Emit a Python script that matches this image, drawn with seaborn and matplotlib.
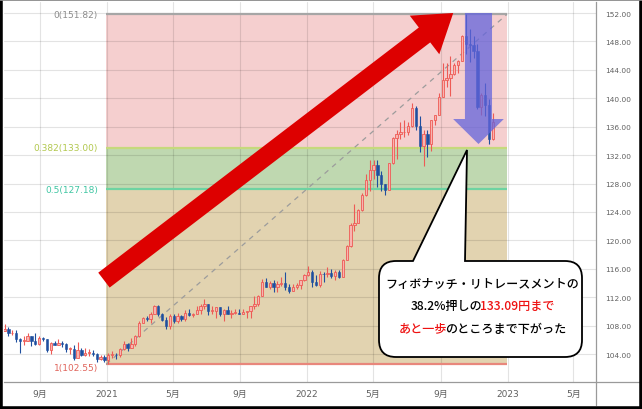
import numpy as np
import pandas as pd
import matplotlib.pyplot as plt
import matplotlib.dates as mdates
from matplotlib.patches import FancyArrowPatch, PathPatch, ArrowStyle
from matplotlib.path import Path
from matplotlib.lines import Line2D
from matplotlib.ticker import FuncFormatter
import seaborn as sns


# weekly USD/JPY candles (week starting Monday)
weeks = pd.date_range("2020-06-29", "2022-12-05", freq="W-MON")

opens = [
    107.2, 107.5, 106.9, 107.0, 106.1, 105.8, 105.9, 106.6, 105.8, 105.4,
    106.2, 106.1, 104.6, 105.6, 105.3, 105.6, 105.4, 104.7, 104.7, 103.4,
    104.6, 103.9, 104.1, 104.2, 104.0, 103.3, 103.6,
    # 2021
    103.2, 103.9, 103.9, 103.8, 104.7, 105.4, 104.9, 105.4, 106.6, 108.3,
    109.0, 108.9, 109.6, 110.7, 109.7, 108.8, 107.9, 109.3, 108.6, 109.4,
    108.9, 109.8, 109.5, 109.7, 110.2, 110.8, 111.1, 110.1, 110.1, 110.6,
    109.7, 110.2, 109.6, 109.8, 109.8, 109.7, 109.9, 110.0, 110.7, 111.1,
    112.2, 114.2, 113.5, 114.0, 113.4, 113.9, 114.0, 113.4, 112.8, 113.4,
    113.7, 114.4,
    # 2022
    115.1, 115.6, 114.2, 113.7, 115.3, 115.2, 115.4, 115.0, 115.6, 114.8,
    117.3, 119.2, 122.1, 122.5, 124.3, 126.4, 128.5, 129.9, 130.6, 129.2,
    127.9, 127.1, 130.9, 134.4, 135.0, 135.2, 135.2, 136.1, 138.6, 136.1,
    133.3, 135.0, 133.5, 136.9, 137.6, 140.2, 142.6, 142.9, 143.4, 144.7,
    145.3, 148.7, 147.7, 147.5, 146.6, 138.8, 140.4, 139.1, 134.3,
]
highs = [
    108.2, 107.8, 107.4, 107.4, 106.2, 106.5, 107.0, 106.6, 107.0, 106.6,
    106.4, 106.1, 105.7, 105.8, 106.1, 105.8, 105.5, 105.0, 105.3, 105.7,
    104.8, 104.8, 104.7, 104.5, 104.2, 103.9, 103.9,
    104.1, 104.4, 104.1, 104.9, 105.8, 105.6, 106.2, 106.7, 108.6, 109.2,
    109.4, 109.9, 110.9, 110.9, 109.8, 109.2, 109.7, 109.7, 109.8, 109.5,
    110.2, 110.3, 109.8, 110.8, 111.0, 111.7, 111.1, 110.7, 110.6, 110.6,
    110.4, 110.8, 110.2, 110.3, 110.4, 110.4, 110.1, 110.8, 112.1, 112.3,
    114.5, 114.7, 114.3, 114.4, 114.3, 114.9, 115.5, 113.9, 113.9, 114.0,
    114.4, 115.2,
    116.4, 115.8, 115.1, 115.7, 115.5, 116.3, 116.0, 115.8, 115.8, 117.4,
    119.4, 122.4, 125.1, 124.4, 126.7, 129.4, 131.3, 131.3, 131.3, 129.8,
    128.0, 130.9, 134.6, 135.6, 136.7, 137.0, 136.6, 139.4, 138.9, 137.5,
    135.6, 135.6, 137.0, 137.7, 140.8, 145.0, 144.9, 145.9, 144.9, 145.4,
    148.9, 151.8, 149.7, 148.8, 147.6, 140.8, 142.2, 139.9, 137.9,
]
lows = [
    107.2, 106.6, 106.7, 105.7, 104.2, 105.3, 105.8, 105.1, 105.2, 105.2,
    105.9, 104.3, 104.0, 105.2, 105.2, 105.0, 104.3, 104.0, 103.2, 103.4,
    103.7, 103.7, 103.7, 103.7, 102.9, 103.1, 102.9,
    102.55, 103.5, 103.3, 103.6, 104.6, 104.4, 104.9, 105.1, 106.4, 108.3,
    108.6, 108.4, 109.6, 109.4, 108.6, 107.5, 107.5, 108.3, 108.3, 108.6,
    108.6, 109.3, 109.2, 109.6, 109.7, 110.4, 109.5, 109.6, 109.1, 109.4,
    108.7, 109.6, 109.1, 109.6, 109.6, 109.6, 109.1, 109.1, 110.3, 110.8,
    112.1, 113.4, 113.2, 112.7, 112.7, 113.6, 113.0, 112.6, 112.8, 113.1,
    113.2, 114.3,
    115.0, 113.5, 113.6, 113.5, 114.2, 114.9, 114.7, 114.4, 114.7, 114.8,
    117.3, 119.0, 121.3, 122.4, 124.2, 126.3, 126.9, 128.6, 127.5, 126.9,
    126.4, 127.1, 130.7, 131.5, 134.3, 134.5, 134.8, 135.9, 135.6, 132.5,
    130.4, 131.7, 132.6, 136.2, 137.6, 140.2, 141.6, 140.3, 143.3, 143.5,
    145.2, 146.2, 145.1, 145.7, 138.5, 137.7, 137.5, 133.6, 134.1,
]
closes = [
    107.5, 106.9, 107.0, 106.1, 105.8, 105.9, 106.6, 105.8, 105.4, 106.2,
    106.1, 104.6, 105.6, 105.3, 105.6, 105.4, 104.7, 104.7, 103.4, 104.6,
    103.9, 104.1, 104.2, 104.0, 103.3, 103.6, 103.2,
    103.9, 103.9, 103.8, 104.7, 105.4, 104.9, 105.4, 106.6, 108.3, 109.0,
    108.9, 109.6, 110.7, 109.7, 108.8, 107.9, 109.3, 108.6, 109.4, 108.9,
    109.8, 109.5, 109.7, 110.2, 110.8, 111.1, 110.1, 110.1, 110.6, 109.7,
    110.2, 109.6, 109.8, 109.8, 109.7, 109.9, 110.0, 110.7, 111.1, 112.2,
    114.2, 113.5, 114.0, 113.4, 113.9, 114.0, 113.4, 112.8, 113.4, 113.7,
    114.4, 115.1,
    115.6, 114.2, 113.7, 115.3, 115.2, 115.4, 115.0, 115.6, 114.8, 117.3,
    119.2, 122.1, 122.5, 124.3, 126.4, 128.5, 129.9, 130.6, 129.2, 127.9,
    127.1, 130.9, 134.4, 135.0, 135.2, 135.2, 136.1, 138.6, 136.1, 133.3,
    135.0, 133.5, 136.9, 137.6, 140.2, 142.6, 142.9, 143.4, 144.7, 145.3,
    148.7, 147.7, 147.5, 146.6, 138.8, 140.4, 139.1, 134.3, 136.6,
]

# Fibonacci retracement
fib_ratios = ["0", "0.382", "0.5", "1"]
fib_prices = [151.82, 133.00, 127.18, 102.55]
fib_start = "2020-12-31"
fib_end = "2022-12-31"

zone_colors = ["#f5cfcf", "#bfd8b0", "#e2d3b0"]
line_colors = ["#a6a6a6", "#c6d97c", "#6ed3a2", "#e8877c"]
label_colors = ["#8c8c8c", "#b2c84e", "#40c6a3", "#e0655c"]

up_face, up_edge = "#f8b4b0", "#ee5a55"
down_color = "#1f4f9f"

callout_lines = [
    [("フィボナッチ・リトレースメントの", "black")],
    [("38.2%押しの", "black"), ("133.09円まで", "#ee1111")],
    [("あと一歩", "#ee1111"), ("のところまで下がった", "black")],
]


sns.set_theme(style="whitegrid")
plt.rcParams["font.family"] = ["DejaVu Sans", "Noto Sans CJK JP"]

W, H = 642, 410
fig = plt.figure(figsize=(W / 100, H / 100), dpi=100)
fig.patch.set_facecolor("white")
ax = fig.add_axes([4 / W, (H - 383) / H, (596 - 4) / W, (383 - 3) / H])
ax.set_facecolor("white")

def px(x, y):
    return (x / W, 1 - y / H)

x = mdates.date2num(weeks)
o = np.array(opens)
c = np.array(closes)
up = c >= o
x0, x1 = mdates.date2num(pd.Timestamp(fib_start)), mdates.date2num(pd.Timestamp(fib_end))

# zones
for i in range(3):
    ax.fill_between([x0, x1], fib_prices[i + 1], fib_prices[i], color=zone_colors[i], lw=0, zorder=1)
for i, p in enumerate(fib_prices):
    ax.hlines(p, x0, x1, color=line_colors[i], lw=1.6, zorder=2)
    dy = -2 if i == 3 else 0
    ax.annotate(f"{fib_ratios[i]}({p:.2f})", xy=(x0, p), xytext=(-6, dy), textcoords="offset points",
                ha="right", va="center", fontsize=6.5, color=label_colors[i], zorder=2)

ax.plot([x0, x1], [fib_prices[-1], fib_prices[0]], ls=(0, (4, 4)), color="#9c9c9c", lw=0.9, zorder=2.2)

# candles
ax.vlines(x[up], np.array(lows)[up], np.array(highs)[up], color=up_edge, lw=0.8, zorder=3)
ax.vlines(x[~up], np.array(lows)[~up], np.array(highs)[~up], color=down_color, lw=0.8, zorder=3)
ax.bar(x[up], np.maximum(c - o, 0.12)[up], bottom=o[up], width=4.2,
       facecolor=up_face, edgecolor=up_edge, lw=0.6, zorder=3.1)
ax.bar(x[~up], (o - c)[~up], bottom=c[~up], width=4.2,
       facecolor=down_color, edgecolor=down_color, lw=0.4, zorder=3.1)

# arrows
red_arrow = FancyArrowPatch(
    (mdates.date2num(pd.Timestamp("2020-12-27")), 114.4),
    (mdates.date2num(pd.Timestamp("2022-09-24")), 152.0),
    arrowstyle=ArrowStyle.Simple(head_length=26, head_width=35, tail_width=13.5),
    mutation_scale=1, color="#dd0000", lw=0, shrinkA=0, shrinkB=0, zorder=4)
ax.add_patch(red_arrow)

blue_arrow = FancyArrowPatch(
    (mdates.date2num(pd.Timestamp("2022-11-09")), 152.0),
    (mdates.date2num(pd.Timestamp("2022-11-09")), 133.56),
    arrowstyle=ArrowStyle.Simple(head_length=18, head_width=36.5, tail_width=19.5),
    mutation_scale=1, color="#6464dc", alpha=0.75, lw=0, shrinkA=0, shrinkB=0, zorder=4)
ax.add_patch(blue_arrow)

# axes
ax.set_xlim(mdates.date2num(pd.Timestamp("2020-06-28")), mdates.date2num(pd.Timestamp("2023-06-11")))
ax.set_ylim(100.06, 153.55)
ax.set_yticks(np.arange(104, 153, 4))
ax.yaxis.tick_right()
ax.yaxis.set_major_formatter(FuncFormatter(lambda v, _: f"{v:.2f}"))
ax.xaxis.set_major_locator(mdates.MonthLocator(bymonth=[1, 5, 9]))

def month_label(v, _):
    d = mdates.num2date(v)
    return str(d.year) if d.month == 1 else f"{d.month}月"

ax.xaxis.set_major_formatter(FuncFormatter(month_label))
ax.tick_params(axis="y", length=0, pad=6.5, labelsize=5.3, labelcolor="#606060")
ax.tick_params(axis="x", length=0, pad=5, labelsize=6.5, labelcolor="#606060")
ax.set_axisbelow("line")
ax.grid(True, color="black", alpha=0.11, lw=0.8)
for s in ["top", "left"]:
    ax.spines[s].set_visible(False)
for s in ["right", "bottom"]:
    ax.spines[s].set_color("#9a9a9a")
    ax.spines[s].set_linewidth(0.9)
ax.set_xlabel("")
ax.set_ylabel("")

fig.add_artist(Line2D([596 / W, 596 / W], [1 - 383 / H, 1 - 406 / H], transform=fig.transFigure,
                      color="#9a9a9a", lw=0.9))
fig.add_artist(Line2D([596 / W, 1], [1 - 383 / H, 1 - 383 / H], transform=fig.transFigure,
                      color="#9a9a9a", lw=0.9))

# callout bubble
L, R, T, B, r = 379, 582, 262, 358, 17
verts = [(L + r, T), (413, T), (467, 151), (465, T), (R - r, T),
         (R, T), (R, T + r), (R, B - r), (R, B), (R - r, B), (L + r, B),
         (L, B), (L, B - r), (L, T + r), (L, T), (L + r, T), (L + r, T)]
codes = [Path.MOVETO, Path.LINETO, Path.LINETO, Path.LINETO, Path.LINETO,
         Path.CURVE3, Path.CURVE3, Path.LINETO, Path.CURVE3, Path.CURVE3, Path.LINETO,
         Path.CURVE3, Path.CURVE3, Path.LINETO, Path.CURVE3, Path.CURVE3, Path.CLOSEPOLY]
bubble = PathPatch(Path([px(*v) for v in verts], codes), transform=fig.transFigure,
                   facecolor="white", edgecolor="black", lw=1.3, zorder=5)
fig.add_artist(bubble)

renderer = fig.canvas.get_renderer()
for line, yc in zip(callout_lines, [285, 307, 329]):
    texts = [fig.text(0, 0, s, color=col, fontsize=8.7, fontweight=500,
                      family=["Noto Sans CJK JP", "DejaVu Sans"],
                      ha="left", va="center", zorder=6) for s, col in line]
    widths = [t.get_window_extent(renderer).width - 2.5 for t in texts]
    xs = 481 - sum(widths) / 2
    for t, w in zip(texts, widths):
        t.set_position(px(xs, yc))
        xs += w

# outer frame
fig.add_artist(Line2D([0, 0, 1, 1], [1, 0, 0, 1], transform=fig.transFigure, color="black", lw=4))
fig.add_artist(Line2D([0, 1], [1, 1], transform=fig.transFigure, color="#8a8a8a", lw=2))

fig.savefig("out.png", dpi=100)
